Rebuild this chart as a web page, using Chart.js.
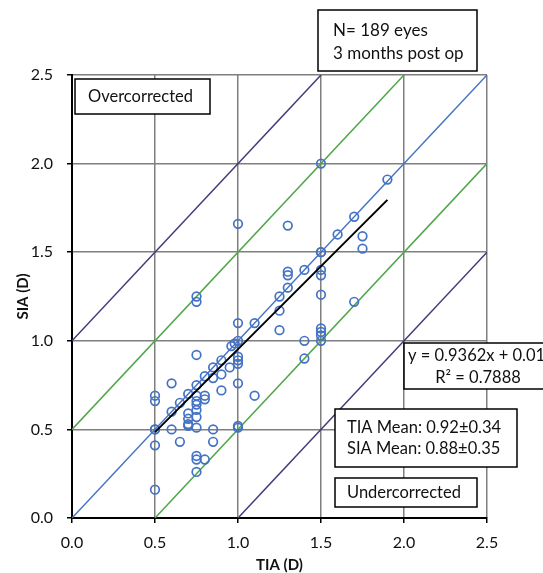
<!DOCTYPE html>
<html>
<head>
<meta charset="utf-8">
<title>SIA vs TIA</title>
<script src="https://cdn.jsdelivr.net/npm/chart.js@4.4.0/dist/chart.umd.min.js"></script>
<style>
  html, body { margin: 0; padding: 0; background: #fff; }
  #wrap { width: 543px; height: 573px; position: relative; }
</style>
</head>
<body>
<div id="wrap"><canvas id="chart"></canvas></div>
<script>
// Target induced astigmatism (x) and surgically induced astigmatism (y), in D
const tiaValues = [
  1.5, 1.9, 1.0, 1.3, 1.7, 1.6, 1.75, 1.75, 1.5, 1.5,
  1.3, 1.3, 1.4, 1.5, 1.5, 1.3, 1.25, 0.75, 0.75, 1.7,
  1.25, 1.5, 1.0, 1.1, 1.25, 1.5, 1.5, 1.5, 1.5, 1.4,
  1.4, 1.1, 1.0, 0.98, 0.96, 1.0, 1.0, 1.0, 0.95, 0.9,
  0.75, 1.0, 0.9, 0.9, 0.85, 0.85, 0.8, 0.75, 0.75, 0.75,
  0.75, 0.7, 0.7, 0.7, 0.7, 0.75, 0.8, 0.65, 0.6, 0.6,
  0.5, 0.5, 0.5, 0.5, 0.5, 0.5, 0.6, 0.65, 0.7, 0.75,
  0.85, 0.85, 0.75, 0.75, 0.8, 0.75, 1.0, 1.0, 0.8, 0.75
]
const siaValues = [
  2.0, 1.91, 1.66, 1.65, 1.70, 1.60, 1.59, 1.52, 1.50, 1.50,
  1.39, 1.37, 1.40, 1.40, 1.37, 1.30, 1.25, 1.25, 1.22, 1.22,
  1.17, 1.26, 1.10, 1.10, 1.06, 1.07, 1.05, 1.03, 1.00, 1.00,
  0.90, 0.69, 1.00, 0.985, 0.97, 0.91, 0.89, 0.87, 0.85, 0.89,
  0.92, 0.76, 0.81, 0.72, 0.85, 0.79, 0.80, 0.75, 0.69, 0.66,
  0.64, 0.70, 0.59, 0.56, 0.53, 0.57, 0.67, 0.65, 0.60, 0.76,
  0.69, 0.66, 0.50, 0.50, 0.41, 0.16, 0.50, 0.43, 0.52, 0.51,
  0.50, 0.43, 0.35, 0.33, 0.33, 0.26, 0.52, 0.51, 0.69, 0.61
]

// Axis ticks
const tickValues = [0, 0.5, 1.0, 1.5, 2.0, 2.5]

// Reference lines y = x + offset
const refOffsets = [-1, -0.5, 0, 0.5, 1]
const refColors = ["#463779", "#4EA648", "#4472C4", "#4EA648", "#463779"]

// Linear fit
const slope = 0.9362
const intercept = 0.0163
const fitText = "y = 0.9362x + 0.0163"
const r2Text = "R\u00b2 = 0.7888"

// Annotation texts
const nText = ["N= 189 eyes", "3 months post op"]
const meanText = ["TIA Mean: 0.92\u00b10.34", "SIA Mean: 0.88\u00b10.35"]

const axisMin = tickValues[0]
const axisMax = tickValues[tickValues.length - 1]

function refLine(offset) {
  // clip y = x + offset to the axis square
  const x0 = Math.max(axisMin, axisMin - offset)
  const x1 = Math.min(axisMax, axisMax - offset)
  return [{ x: x0, y: x0 + offset }, { x: x1, y: x1 + offset }]
}

const fitMinX = Math.min(...tiaValues)
const fitMaxX = Math.max(...tiaValues)

const datasets = refOffsets.map((off, i) => ({
  type: "line",
  data: refLine(off),
  borderColor: refColors[i],
  borderWidth: 1.5,
  pointRadius: 0,
  fill: false,
  order: 3,
}))

datasets.push({
  type: "scatter",
  data: tiaValues.map((x, i) => ({ x: x, y: siaValues[i] })),
  borderColor: "#4472C4",
  backgroundColor: "rgba(0,0,0,0)",
  borderWidth: 1.7,
  pointRadius: 4.3,
  order: 2,
})

datasets.push({
  type: "line",
  data: [
    { x: fitMinX, y: slope * fitMinX + intercept },
    { x: fitMaxX, y: slope * fitMaxX + intercept },
  ],
  borderColor: "#000",
  borderWidth: 2,
  pointRadius: 0,
  fill: false,
  order: 1,
})

// Text boxes drawn on top of the plot
const boxPlugin = {
  id: "boxes",
  afterDraw(chart) {
    const ctx = chart.ctx

    function box(x, y, w, h) {
      ctx.save()
      ctx.fillStyle = "#fff"
      ctx.fillRect(x, y, w, h)
      ctx.strokeStyle = "#000"
      ctx.lineWidth = 1.5
      ctx.strokeRect(x, y, w, h)
      ctx.restore()
    }
    function text(str, x, y, size, align) {
      ctx.save()
      ctx.font = size + "px Lato, 'Open Sans', sans-serif"
      ctx.fillStyle = "#111"
      ctx.textAlign = align || "left"
      ctx.textBaseline = "middle"
      ctx.fillText(str, x, y)
      ctx.restore()
    }

    box(318, 10, 159, 61)
    text(nText[0], 333, 31, 17)
    text(nText[1], 333, 54, 17)

    box(75, 79, 135, 35)
    text("Overcorrected", 88, 97, 16.5)

    box(404, 343, 160, 46)
    text(fitText, 408, 356, 16.5)
    text(r2Text, 478, 378, 16.5, "center")

    box(335, 409, 182, 58)
    text(meanText[0], 347, 428, 16.5)
    text(meanText[1], 347, 449, 16.5)

    box(335, 478, 142, 29)
    text("Undercorrected", 347, 493, 16.5)
  },
}

const tickFont = { family: "Lato, 'Open Sans', sans-serif", size: 16 }

new Chart(document.getElementById("chart"), {
  data: { datasets: datasets },
  plugins: [boxPlugin],
  options: {
    responsive: true,
    maintainAspectRatio: false,
    animation: false,
    layout: {
      padding: { top: 75, right: 56, left: 0, bottom: 0 },
    },
    plugins: {
      legend: { display: false },
      tooltip: { enabled: false },
    },
    scales: {
      x: {
        type: "linear",
        min: axisMin,
        max: axisMax,
        afterFit: (s) => { s.height = 55 },
        afterBuildTicks: (s) => { s.ticks = tickValues.map((v) => ({ value: v })) },
        grid: { color: "#7f7f7f", lineWidth: 1.5, tickColor: "#000", tickLength: 5 },
        border: { color: "#000", width: 2 },
        ticks: {
          color: "#111",
          font: tickFont,
          padding: 10,
          maxRotation: 0,
          callback: (v) => v.toFixed(1),
        },
        title: {
          display: true,
          text: "TIA (D)",
          color: "#111",
          font: { family: "Lato, 'Open Sans', sans-serif", size: 15, weight: "bold", lineHeight: 1 },
          padding: { top: 0, bottom: 0 },
        },
      },
      y: {
        type: "linear",
        min: axisMin,
        max: axisMax,
        afterFit: (s) => { s.width = 72 },
        afterBuildTicks: (s) => { s.ticks = tickValues.map((v) => ({ value: v })) },
        grid: { color: "#7f7f7f", lineWidth: 1.5, tickColor: "#000", tickLength: 5 },
        border: { color: "#000", width: 2 },
        ticks: {
          color: "#111",
          font: tickFont,
          padding: 14,
          callback: (v) => v.toFixed(1),
        },
        title: {
          display: true,
          text: "SIA (D)",
          color: "#111",
          font: { family: "Lato, 'Open Sans', sans-serif", size: 15, weight: "bold", lineHeight: 1.2 },
          padding: { top: 14, bottom: 0 },
        },
      },
    },
  },
})
</script>
</body>
</html>
